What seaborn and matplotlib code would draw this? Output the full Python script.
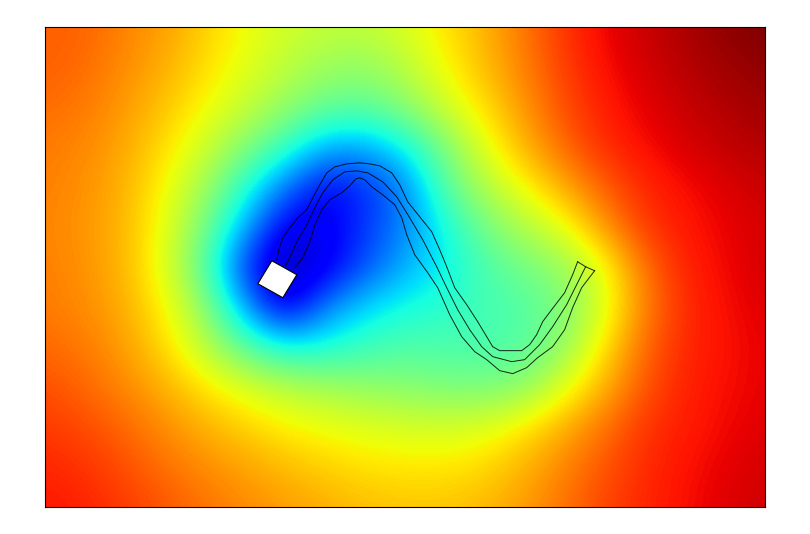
import pandas as pd
import seaborn as sns
import matplotlib.pyplot as plt

# Sample positions of the field (pixels of the plot frame)
x_pos = [45, 85, 125, 165, 205, 245, 285, 325, 365, 405, 445, 485, 525, 565, 605, 645, 685, 725, 765]
y_pos = [27, 67, 107, 147, 187, 227, 267, 307, 347, 387, 427, 467, 507]

# Field values, one list per row
row_027 = [.81, .805, .77, .74, .69, .64, .605, .585, .585, .615, .665, .72, .785, .855, .905, .935, .96, .985, 1.0]
row_067 = [.81, .795, .76, .725, .675, .625, .58, .54, .525, .575, .645, .71, .775, .845, .895, .925, .95, .97, .985]
row_107 = [.795, .78, .745, .70, .645, .59, .53, .475, .465, .515, .60, .675, .75, .83, .88, .91, .935, .955, .97]
row_147 = [.78, .765, .73, .675, .60, .51, .42, .30, .29, .37, .50, .625, .72, .80, .865, .895, .92, .94, .955]
row_187 = [.775, .755, .72, .645, .545, .40, .24, .12, .165, .25, .455, .565, .645, .73, .81, .87, .895, .915, .935]
row_227 = [.77, .75, .715, .63, .495, .30, .10, .10, .18, .255, .375, .49, .565, .63, .75, .85, .885, .905, .925]
row_267 = [.775, .755, .715, .62, .455, .17, .03, .10, .20, .30, .36, .44, .49, .535, .635, .79, .875, .90, .925]
row_307 = [.78, .76, .725, .65, .525, .29, .08, .25, .34, .38, .40, .43, .45, .50, .62, .77, .865, .895, .915]
row_347 = [.80, .78, .74, .68, .575, .46, .38, .385, .42, .445, .44, .44, .45, .53, .67, .80, .87, .89, .91]
row_387 = [.825, .80, .765, .72, .67, .615, .575, .55, .53, .515, .50, .495, .52, .625, .72, .82, .875, .895, .91]
row_427 = [.85, .83, .80, .76, .72, .69, .655, .635, .62, .61, .605, .62, .665, .725, .79, .855, .88, .90, .915]
row_467 = [.87, .855, .825, .79, .76, .735, .71, .69, .67, .665, .665, .68, .72, .77, .82, .865, .89, .91, .925]
row_507 = [.885, .875, .85, .82, .79, .765, .745, .725, .71, .70, .70, .715, .745, .79, .84, .87, .895, .915, .93]

# Channel outlines, same pixel positions
upper_x = [277, 279, 283, 290, 298, 307, 313, 320, 327, 335, 347, 360, 370, 380, 392, 400, 408, 420, 432, 440, 447, 455, 467, 478, 487, 493, 500, 510, 522, 530, 537, 543, 552, 565, 573, 578]
upper_y = [260, 250, 238, 228, 218, 210, 198, 185, 173, 167, 164, 163, 164, 166, 173, 185, 202, 217, 232, 250, 267, 288, 305, 322, 337, 347, 351, 351, 351, 345, 335, 322, 310, 293, 275, 262]
middle_x = [286, 292, 298, 307, 315, 323, 333, 345, 357, 368, 383, 397, 410, 423, 437, 447, 458, 470, 482, 493, 512, 525, 540, 553, 567, 578, 586]
middle_y = [266, 253, 240, 225, 208, 193, 180, 172, 171, 173, 182, 197, 218, 240, 267, 288, 310, 330, 347, 357, 362, 360, 345, 327, 305, 283, 267]
lower_x = [295, 303, 310, 315, 322, 330, 342, 350, 356, 360, 365, 372, 383, 395, 402, 407, 415, 428, 438, 450, 462, 475, 487, 500, 513, 527, 538, 553, 565, 573, 582, 595]
lower_y = [268, 258, 242, 225, 210, 200, 193, 186, 179, 178, 180, 187, 195, 205, 218, 235, 255, 273, 288, 315, 337, 352, 360, 371, 374, 368, 358, 347, 330, 308, 288, 271]
cap_x = [578, 586, 595]
cap_y = [262, 267, 271]
box_x = [272, 297, 283, 258]
box_y = [261, 275, 298, 284]

data = pd.DataFrame([row_027, row_067, row_107, row_147, row_187, row_227, row_267,
                     row_307, row_347, row_387, row_427, row_467, row_507],
                    index=y_pos, columns=x_pos)


def to_x(values):
    return [(v - x_pos[0]) / 40 + 0.5 for v in values]


def to_y(values):
    return [(v - y_pos[0]) / 40 + 0.5 for v in values]


fig = plt.figure(figsize=(8.1, 5.34), dpi=100)
ax = fig.add_axes([45 / 810, 1 - 506.5 / 534, 719.5 / 810, 479.5 / 534])

sns.heatmap(data, cmap='jet', vmin=0, vmax=1, cbar=False, square=False,
            xticklabels=False, yticklabels=False, ax=ax)

# Swap the blocky cells for a smooth version of the same table
ax.collections[0].remove()
ax.imshow(data.values, cmap='jet', vmin=0, vmax=1, aspect='auto',
          interpolation='bicubic', interpolation_stage='data',
          extent=(0, len(x_pos), len(y_pos), 0))

for line_x, line_y in [(upper_x, upper_y), (middle_x, middle_y), (lower_x, lower_y), (cap_x, cap_y)]:
    ax.plot(to_x(line_x), to_y(line_y), color='black', lw=0.7, alpha=0.85, solid_joinstyle='round')
ax.fill(to_x(box_x), to_y(box_y), facecolor='white', edgecolor='black', lw=0.8, zorder=3)

ax.set_xlim(0.5, len(x_pos) - 0.5)
ax.set_ylim(len(y_pos) - 0.5, 0.5)
ax.set_xlabel('')
ax.set_ylabel('')
ax.tick_params(length=0)
for spine in ax.spines.values():
    spine.set_visible(True)
    spine.set_color('black')
    spine.set_linewidth(0.8)

plt.savefig('out.png', dpi=100)
